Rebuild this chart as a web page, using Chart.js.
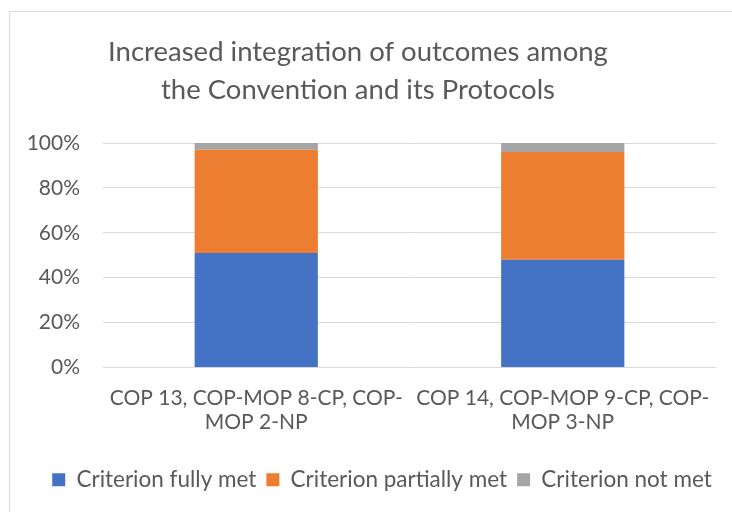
<!DOCTYPE html>
<html>
<head>
<meta charset="utf-8">
<script src="https://cdn.jsdelivr.net/npm/chart.js@4"></script>
<style>
  html, body { margin: 0; padding: 0; background: #fff; }
  #wrap { position: relative; width: 732px; height: 512px; overflow: hidden; }
  #frame {
    position: absolute; left: 9px; top: 11px; width: 760px; height: 560px;
    border: 1px solid #d9d9d9; box-sizing: border-box;
  }
  canvas { position: absolute; left: 0; top: 0; }
</style>
</head>
<body>
<div id="wrap">
  <div id="frame"></div>
  <canvas id="chart" width="732" height="512"></canvas>
</div>
<script>
// Chart values
const categories = [
  ['COP 13, COP-MOP 8-CP, COP-', 'MOP 2-NP'],
  ['COP 14, COP-MOP 9-CP, COP-', 'MOP 3-NP'],
];
const fullyMet = [51, 48];
const partiallyMet = [46, 48];
const notMet = [3, 4];
const yTicks = [0, 20, 40, 60, 80, 100];

const TEXT = '#595959';
const FONT = 'Lato, "Open Sans", sans-serif';

// the legend in the original sits a little right of centre
const legendShift = {
  id: 'legendShift',
  afterLayout(chart) {
    const lg = chart.legend;
    if (!lg) return;
    lg.left += 24;
    lg.right += 24;
  },
};

const ctx = document.getElementById('chart');

new Chart(ctx, {
  type: 'bar',
  data: {
    labels: categories,
    datasets: [
      { label: 'Criterion fully met', data: fullyMet, backgroundColor: '#4472C4' },
      { label: 'Criterion partially met', data: partiallyMet, backgroundColor: '#ED7D31' },
      { label: 'Criterion not met', data: notMet, backgroundColor: '#A5A5A5' },
    ],
  },
  options: {
    responsive: false,
    animation: false,
    devicePixelRatio: 1,
    datasets: {
      bar: { categoryPercentage: 1, barPercentage: 0.402, borderWidth: 0 },
    },
    layout: { padding: { left: 0, right: 16, top: 33, bottom: 11 } },
    plugins: {
      title: {
        display: true,
        text: ['Increased integration of outcomes among', 'the Convention and its Protocols'],
        color: TEXT,
        font: { family: FONT, size: 27.5, weight: 'normal', lineHeight: 1.382 },
        padding: { top: 0, bottom: 34 },
      },
      legend: {
        position: 'bottom',
        labels: {
          color: TEXT,
          font: { family: FONT, size: 22.5 },
          boxWidth: 13,
          boxHeight: 13,
          padding: 10,
        },
      },
      tooltip: { enabled: false },
    },
    scales: {
      x: {
        stacked: true,
        grid: { display: false },
        border: { display: false },
        afterFit: (scale) => { scale.height = 91; },
        ticks: { color: TEXT, font: { family: FONT, size: 21, lineHeight: 1.15 }, maxRotation: 0, padding: 11 },
      },
      y: {
        stacked: true,
        min: 0,
        max: 100,
        afterBuildTicks: (scale) => { scale.ticks = yTicks.map(v => ({ value: v })); },
        afterFit: (scale) => { scale.width = 103; },
        grid: { color: '#d9d9d9', lineWidth: 1, drawTicks: false },
        border: { display: false },
        ticks: {
          color: TEXT,
          font: { family: FONT, size: 21 },
          padding: 23,
          callback: (v) => v + '%',
        },
      },
    },
  },
  plugins: [legendShift],
});
</script>
</body>
</html>
